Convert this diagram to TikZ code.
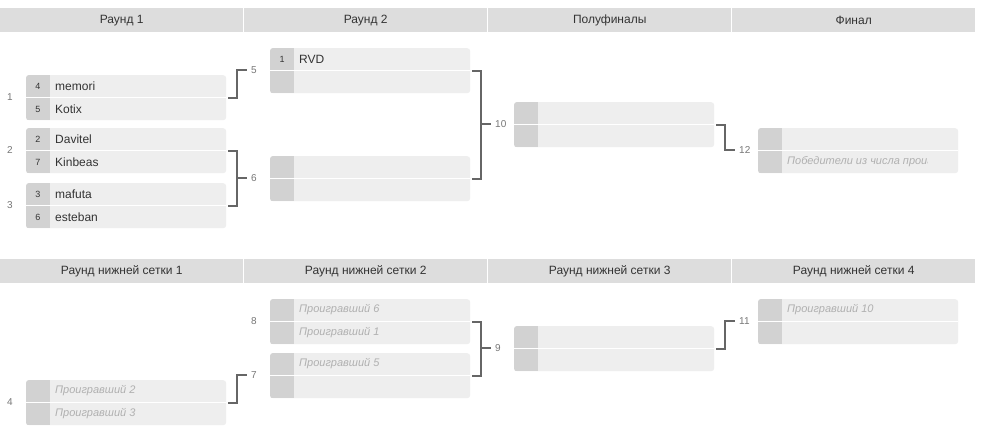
\documentclass[tikz,border=0pt]{standalone}
\usepackage{fontspec}
\setmainfont{Liberation Sans}
\usetikzlibrary{positioning}
\definecolor{headgray}{HTML}{DDDDDD}
\definecolor{slotgray}{HTML}{EEEEEE}
\definecolor{seedgray}{HTML}{D2D2D2}
\definecolor{textdark}{HTML}{333333}
\definecolor{hintgray}{HTML}{B0B0B0}
\definecolor{linkgray}{HTML}{666666}
\definecolor{numgray}{HTML}{777777}
\newcommand\player[1]{{\color{textdark}#1}}
\newcommand\loser[1]{{\color{hintgray}\itshape\fontsize{11}{13}\selectfont #1}}

\begin{document}
\begin{tikzpicture}[x=1pt,y=-1pt,
  colhead/.style={fill=headgray,text=textdark,minimum width=243pt,minimum height=24pt,inner sep=0pt,anchor=north west,font=\fontsize{12}{14}\selectfont},
  slot/.style={fill=slotgray,minimum width=200pt,minimum height=45pt,inner sep=0pt,rounded corners=3pt,anchor=north west},
  seednum/.style={text=textdark,inner sep=0pt,font=\fontsize{9}{10}\selectfont},
  entry/.style={anchor=west,inner sep=0pt,font=\fontsize{12}{14}\selectfont},
  matchno/.style={anchor=west,inner sep=4pt,text=numgray,font=\fontsize{10}{12}\selectfont},
  link/.style={draw=linkgray,line width=2pt,shorten <=2pt}]
  \useasboundingbox (0,0) rectangle (988,427);
  \fill[white] (0,0) rectangle (988,427);
  % column headers
  \foreach \i/\txt in {0/Раунд 1,1/Раунд 2,2/Полуфиналы,3/Финал}
    \node[colhead] (top\i) at (244*\i,8) {\txt};
  \foreach \i/\txt in {0/Раунд нижней сетки 1,1/Раунд нижней сетки 2,2/Раунд нижней сетки 3,3/Раунд нижней сетки 4}
    \node[colhead] (low\i) at (244*\i,259) {\txt};
  % matches: number/column/top/seed/entry/seed/entry
  \foreach \n/\c/\t/\sa/\pa/\sb/\pb in {
    1/0/75/4/\player{memori}/5/\player{Kotix},
    2/0/128/2/\player{Davitel}/7/\player{Kinbeas},
    3/0/183/3/\player{mafuta}/6/\player{esteban},
    5/244/48/1/\player{RVD}/{}/{},
    6/244/156/{}/{}/{}/{},
    10/488/102/{}/{}/{}/{},
    12/732/128/{}/{}/{}/\loser{Победители из числа проигравших},
    4/0/380/{}/\loser{Проигравший 2}/{}/\loser{Проигравший 3},
    8/244/299/{}/\loser{Проигравший 6}/{}/\loser{Проигравший 1},
    7/244/353/{}/\loser{Проигравший 5}/{}/{},
    9/488/326/{}/{}/{}/{},
    11/732/299/{}/\loser{Проигравший 10}/{}/{}}{
    \node[slot] (m\n) at (\c+26,\t) {};
    \begin{scope}
      \clip[rounded corners=3pt] (m\n.north west) rectangle (m\n.south east);
      \fill[seedgray] (m\n.north west) rectangle ([xshift=24pt]m\n.south west);
    \end{scope}
    \draw[white,line width=1pt] (m\n.west) -- (m\n.east);
    \begin{scope}
      \clip (\c+26,\t) rectangle (\c+195,\t+45);
      \node[seednum] (m\n-sa) at (\c+38,\t+11) {\sa};
      \node[entry] (m\n-pa) at (\c+55,\t+11) {\pa};
      \node[seednum] (m\n-sb) at (\c+38,\t+34) {\sb};
      \node[entry] (m\n-pb) at (\c+55,\t+34) {\pb};
    \end{scope}
    \node[matchno] (l\n) at (\c+3,\t+22) {\n};
  }
  % upper bracket links
  \draw[link] (m1.east) -- ++(11,0) |- (l5.west);
  \draw[link] (m2.east) -- ++(11,0) |- (l6.west);
  \draw[link] (m3.east) -- ++(11,0) |- (l6.west);
  \draw[link] (m5.east) -- ++(11,0) |- (l10.west);
  \draw[link] (m6.east) -- ++(11,0) |- (l10.west);
  \draw[link] (m10.east) -- ++(11,0) |- (l12.west);
  % lower bracket links
  \draw[link] (m4.east) -- ++(11,0) |- (l7.west);
  \draw[link] (m8.east) -- ++(11,0) |- (l9.west);
  \draw[link] (m7.east) -- ++(11,0) |- (l9.west);
  \draw[link] (m9.east) -- ++(11,0) |- (l11.west);
\end{tikzpicture}
\end{document}
